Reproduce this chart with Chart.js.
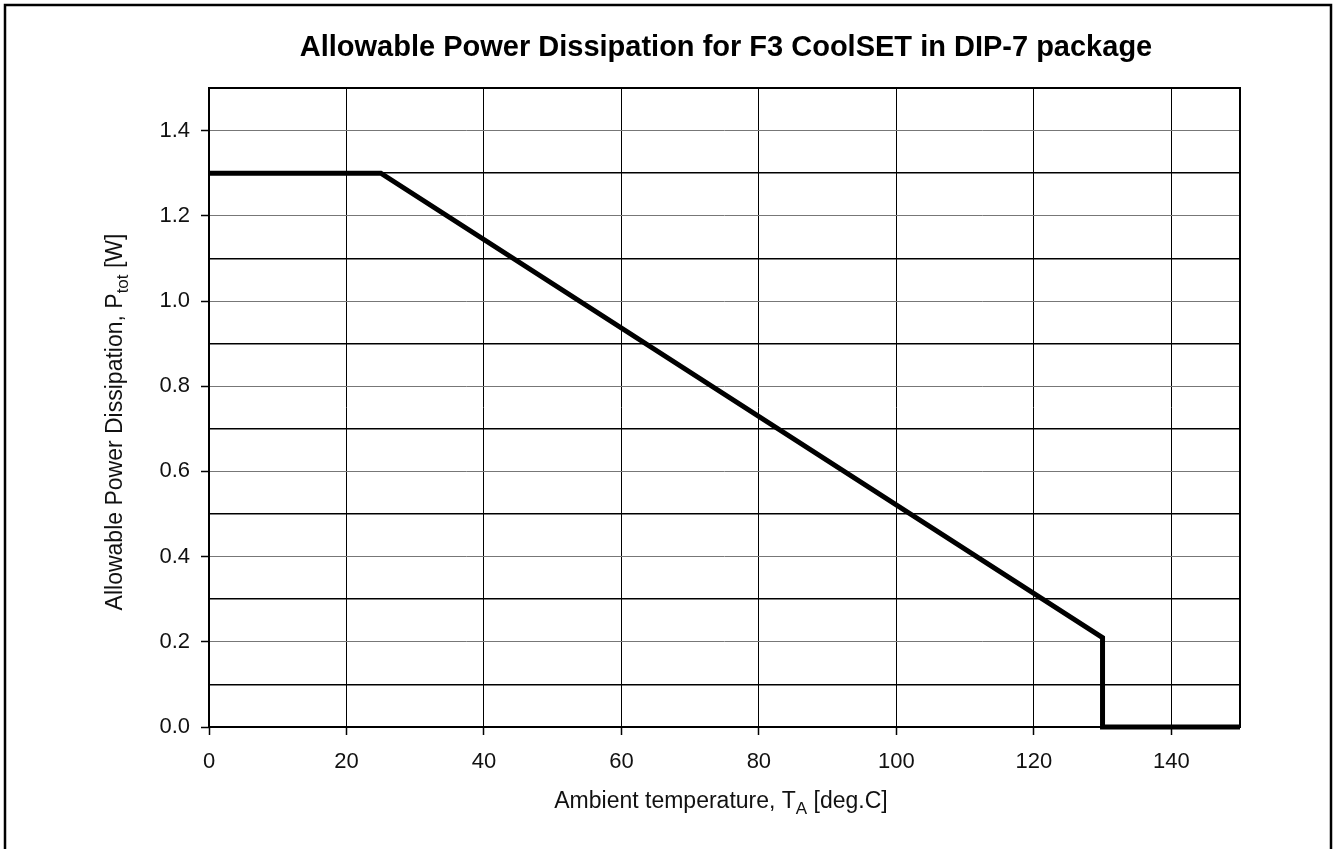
<!DOCTYPE html>
<html>
<head>
<meta charset="utf-8">
<script src="https://cdn.jsdelivr.net/npm/chart.js@4/dist/chart.umd.min.js"></script>
<style>
  html, body { margin: 0; padding: 0; background: #fff; }
  #wrap { width: 1335px; height: 849px; }
</style>
</head>
<body>
<div id="wrap"><canvas id="myChart"></canvas></div>
<script>
// derating curve
const tempA = [0, 25, 130, 130, 150];
const powerTot = [1.3, 1.3, 0.21, 0, 0];

const titleText = 'Allowable Power Dissipation for F3 CoolSET in DIP-7 package';
const xTitle = ['Ambient temperature, T', 'A', ' [deg.C]'];
const yTitle = ['Allowable Power Dissipation, P', 'tot', ' [W]'];

const FONT = '"Liberation Sans", Arial, sans-serif';

const points = [];
for (let i = 0; i < tempA.length; ++i) {
  points.push({ x: tempA[i], y: powerTot[i] });
}

// text with a subscript part, centred on x
function subText(ctx, parts, x, y, size) {
  const small = Math.round(size * 0.72);
  ctx.font = size + 'px ' + FONT;
  const w0 = ctx.measureText(parts[0]).width;
  const w2 = ctx.measureText(parts[2]).width;
  ctx.font = small + 'px ' + FONT;
  const w1 = ctx.measureText(parts[1]).width;
  let cx = x - (w0 + w1 + w2) / 2;
  ctx.textAlign = 'left';
  ctx.textBaseline = 'alphabetic';
  ctx.font = size + 'px ' + FONT;
  ctx.fillText(parts[0], cx, y);
  cx += w0;
  ctx.font = small + 'px ' + FONT;
  ctx.fillText(parts[1], cx, y + size * 0.28);
  cx += w1;
  ctx.font = size + 'px ' + FONT;
  ctx.fillText(parts[2], cx, y);
}

const decor = {
  id: 'decor',
  beforeDatasetsDraw(chart) {
    const ctx = chart.ctx;
    const a = chart.chartArea;
    ctx.save();
    ctx.strokeStyle = '#000';
    ctx.lineWidth = 2;
    ctx.strokeRect(a.left, a.top, a.right - a.left, a.bottom - a.top);
    ctx.restore();
  },
  afterDraw(chart) {
    const ctx = chart.ctx;
    ctx.save();
    // outer frame
    ctx.strokeStyle = '#000';
    ctx.lineWidth = 2.5;
    ctx.strokeRect(5, 5, 1326, 900);
    ctx.fillStyle = '#000';
    ctx.font = 'bold 29px ' + FONT;
    ctx.textAlign = 'center';
    ctx.textBaseline = 'alphabetic';
    ctx.fillText(titleText, 726, 56);
    ctx.fillStyle = '#111';
    subText(ctx, xTitle, 721, 808, 23);
    ctx.translate(122, 422);
    ctx.rotate(-Math.PI / 2);
    subText(ctx, yTitle, 0, 0, 23);
    ctx.restore();
  }
};

const ctx1 = document.getElementById('myChart').getContext('2d');
const myChart = new Chart(ctx1, {
  type: 'line',
  data: {
    datasets: [{
      data: points,
      borderColor: '#000',
      borderWidth: 5,
      pointRadius: 0,
      tension: 0,
      fill: false,
      clip: false
    }]
  },
  options: {
    responsive: true,
    maintainAspectRatio: false,
    animation: false,
    layout: { padding: { left: 0, right: 95, top: 88, bottom: 0 } },
    plugins: { legend: { display: false }, tooltip: { enabled: false } },
    scales: {
      x: {
        type: 'linear',
        min: 0,
        max: 150,
        afterBuildTicks(scale) {
          scale.ticks = scale.ticks.filter(t => t.value <= 140);
        },
        afterFit(scale) { scale.height = 122; },
        border: { display: false },
        grid: {
          color: '#000',
          lineWidth: 1,
          tickLength: 8,
          tickColor: '#000',
          tickWidth: 1.5
        },
        ticks: {
          stepSize: 20,
          color: '#111',
          padding: 14,
          maxRotation: 0,
          font: { family: FONT, size: 22 }
        }
      },
      y: {
        min: 0,
        max: 1.5,
        afterFit(scale) { scale.width = 209; },
        border: { display: false },
        grid: {
          color: c => (Math.round(c.tick.value * 10) % 2 ? '#000' : '#777'),
          lineWidth: c => (Math.round(c.tick.value * 10) % 2 ? 1.5 : 1),
          tickLength: 8,
          tickColor: c => (Math.round(c.tick.value * 10) % 2 ? 'rgba(0,0,0,0)' : '#000'),
          tickWidth: 1.5
        },
        ticks: {
          stepSize: 0.1,
          color: '#111',
          padding: 11,
          font: { family: FONT, size: 22 },
          callback: v => (Math.round(v * 10) % 2 ? '' : v.toFixed(1))
        }
      }
    }
  },
  plugins: [decor]
});
</script>
</body>
</html>
